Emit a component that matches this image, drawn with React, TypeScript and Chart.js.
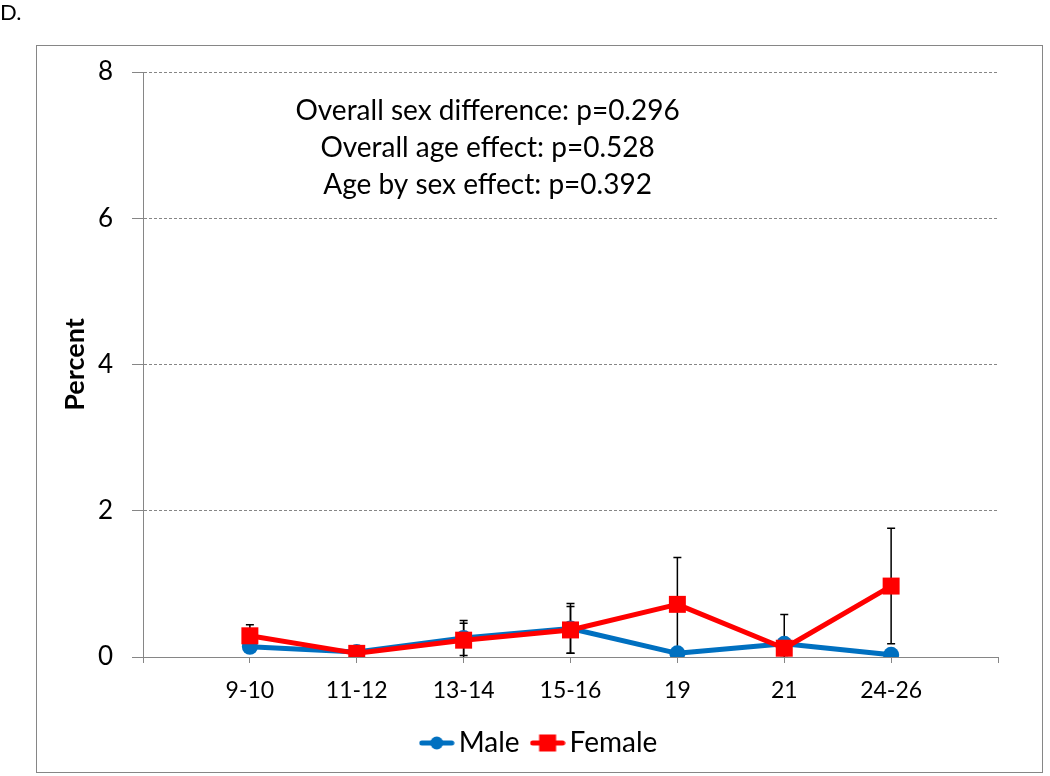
import React, { useEffect, useRef } from 'react';
import { Chart, registerables } from 'chart.js';

Chart.register(...registerables);

const ageGroups = ['9-10', '11-12', '13-14', '15-16', '19', '21', '24-26'];
const maleValues = [0.14, 0.07, 0.26, 0.39, 0.05, 0.18, 0.03];
const maleErrors = [0.05, 0.03, 0.24, 0.34, 0.03, 0.4, 0.02];
const femaleValues = [0.29, 0.05, 0.23, 0.37, 0.72, 0.12, 0.97];
const femaleErrors = [0.15, 0.03, 0.23, 0.32, 0.64, 0.1, 0.79];
const yTickValues = [0, 2, 4, 6, 8];
const annotationLines = [
  'Overall sex difference: p=0.296',
  'Overall age effect: p=0.528',
  'Age by sex effect: p=0.392',
];
const panelLabel = 'D.';
const yTitle = 'Percent';
const seriesNames = ['Male', 'Female'];

const BLUE = '#0070C0';
const RED = '#FF0000';
const GRAY = '#868686';
const FONT = 'Lato';

function makeLegendImage(color: string, shape: 'circle' | 'square'): HTMLCanvasElement {
  const c = document.createElement('canvas');
  c.width = 36;
  c.height = 18;
  const g = c.getContext('2d')!;
  g.strokeStyle = color;
  g.lineWidth = 5;
  g.lineCap = 'round';
  g.beginPath();
  g.moveTo(3, 9);
  g.lineTo(33, 9);
  g.stroke();
  g.fillStyle = color;
  if (shape === 'circle') {
    g.beginPath();
    g.arc(18, 9, 6.5, 0, Math.PI * 2);
    g.fill();
  } else {
    g.fillRect(9.5, 0.5, 17, 17);
  }
  return c;
}

const errorBarPlugin = {
  id: 'errorBars',
  beforeDatasetsDraw(chart: any) {
    const ctx = chart.ctx;
    const yScale = chart.scales.y;
    chart.data.datasets.forEach((ds: any, di: number) => {
      const meta = chart.getDatasetMeta(di);
      const errs: number[] = ds.errorValues || [];
      meta.data.forEach((pt: any, j: number) => {
        const v = ds.data[j].y;
        const e = errs[j] || 0;
        const topV = v + e;
        const botV = Math.max(0, v - e);
        const x = pt.x;
        const yTop = yScale.getPixelForValue(topV);
        const yBot = yScale.getPixelForValue(botV);
        ctx.save();
        ctx.strokeStyle = '#000';
        ctx.lineWidth = 1.5;
        ctx.beginPath();
        ctx.moveTo(x, yTop);
        ctx.lineTo(x, yBot);
        ctx.moveTo(x - 4, yTop);
        ctx.lineTo(x + 4, yTop);
        if (v - e > 0) {
          ctx.moveTo(x - 4, yBot);
          ctx.lineTo(x + 4, yBot);
        }
        ctx.stroke();
        ctx.restore();
      });
    });
  },
};

const framePlugin = {
  id: 'frame',
  beforeDraw(chart: any) {
    const ctx = chart.ctx;
    ctx.save();
    ctx.fillStyle = '#fff';
    ctx.fillRect(0, 0, chart.width, chart.height);
    ctx.strokeStyle = GRAY;
    ctx.lineWidth = 1;
    ctx.strokeRect(36.5, 45.5, 1006, 727);
    ctx.fillStyle = '#000';
    ctx.font = `22px ${FONT}`;
    ctx.textBaseline = 'alphabetic';
    ctx.textAlign = 'left';
    ctx.fillText(panelLabel, 0, 20);
    ctx.restore();
  },
  afterDraw(chart: any) {
    const ctx = chart.ctx;
    const area = chart.chartArea;
    const cx = area.left + (area.right - area.left) * 0.403;
    ctx.save();
    ctx.fillStyle = '#000';
    ctx.font = `28px ${FONT}`;
    ctx.textAlign = 'center';
    ctx.textBaseline = 'middle';
    annotationLines.forEach((t, i) => {
      ctx.fillText(t, cx, area.top + 39 + i * 37);
    });
    ctx.restore();
  },
};

const legendShiftPlugin = {
  id: 'legendShift',
  afterLayout(chart: any) {
    const lg = chart.legend;
    if (lg) {
      lg.left += 24;
      lg.right += 24;
    }
  },
};

const yAxisLinePlugin = {
  id: 'yAxisLine',
  afterDatasetsDraw(chart: any) {
    // solid vertical axis line along the y scale (drawn from the scale's own position)
    const y = chart.scales.y;
    const ctx = chart.ctx;
    ctx.save();
    ctx.strokeStyle = GRAY;
    ctx.lineWidth = 1;
    ctx.setLineDash([]);
    ctx.beginPath();
    const x = Math.round(y.right) - 0.5 + 1;
    ctx.moveTo(x, y.getPixelForValue(yTickValues[yTickValues.length - 1]));
    ctx.lineTo(x, y.getPixelForValue(yTickValues[0]));
    ctx.stroke();
    ctx.restore();
  },
};

export default function App() {
  const ref = useRef<HTMLCanvasElement | null>(null);
  useEffect(() => {
    if (!ref.current) return;
    const maleImg = makeLegendImage(BLUE, 'circle');
    const femaleImg = makeLegendImage(RED, 'square');
    const labels = ['', ...ageGroups, ''];
    const chart = new Chart(ref.current, {
      type: 'line',
      data: {
        labels,
        datasets: [
          {
            label: seriesNames[0],
            data: maleValues.map((v, i) => ({ x: ageGroups[i], y: v })),
            errorValues: maleErrors,
            borderColor: BLUE,
            backgroundColor: BLUE,
            borderWidth: 5,
            borderCapStyle: 'round',
            borderJoinStyle: 'round',
            pointStyle: 'circle',
            pointRadius: 8,
            pointBorderWidth: 0,
            pointBackgroundColor: BLUE,
            tension: 0,
            order: 1,
          } as any,
          {
            label: seriesNames[1],
            data: femaleValues.map((v, i) => ({ x: ageGroups[i], y: v })),
            errorValues: femaleErrors,
            borderColor: RED,
            backgroundColor: RED,
            borderWidth: 5,
            borderCapStyle: 'round',
            borderJoinStyle: 'round',
            pointStyle: 'rect',
            pointRadius: 12,
            pointBorderWidth: 0,
            pointBackgroundColor: RED,
            tension: 0,
            order: 0,
          } as any,
        ],
      },
      options: {
        animation: false,
        responsive: false,
        devicePixelRatio: 1,
        layout: { padding: { left: 40, right: 52, top: 72, bottom: 9 } },
        plugins: {
          tooltip: { enabled: false },
          legend: {
            display: true,
            position: 'bottom',
            align: 'center',
            labels: {
              usePointStyle: true,
              pointStyleWidth: 16,
              padding: 20,
              color: '#000',
              font: { family: FONT, size: 28 },
              generateLabels: () => [
                { text: seriesNames[0], pointStyle: maleImg as any, fillStyle: BLUE, strokeStyle: BLUE, lineWidth: 0, hidden: false, datasetIndex: 0 },
                { text: seriesNames[1], pointStyle: femaleImg as any, fillStyle: RED, strokeStyle: RED, lineWidth: 0, hidden: false, datasetIndex: 1 },
              ],
            },
          },
        },
        scales: {
          x: {
            type: 'category',
            offset: false,
            afterFit: (s: any) => { s.height = 52; },
            grid: {
              display: true,
              drawOnChartArea: false,
              drawTicks: true,
              tickLength: 6,
              tickColor: GRAY,
              tickWidth: 1,
            },
            border: { display: true, color: GRAY, width: 1 },
            ticks: {
              color: '#000',
              font: { family: FONT, size: 23 },
              padding: 14,
              maxRotation: 0,
              autoSkip: false,
            },
          },
          y: {
            type: 'linear',
            min: 0,
            max: 8,
            afterFit: (s: any) => { s.width = 103; },
            afterBuildTicks: (s: any) => { s.ticks = yTickValues.map((v) => ({ value: v })); },
            grid: {
              display: true,
              drawOnChartArea: true,
              drawTicks: true,
              tickLength: 11,
              color: (c: any) => (c.tick && c.tick.value === 0 ? 'rgba(0,0,0,0)' : GRAY),
              lineWidth: 1,
              tickBorderDash: [0, 0],
              tickColor: GRAY,
              tickWidth: 1,
            } as any,
            border: { display: true, color: GRAY, width: 1, dash: [3, 2] } as any,
            ticks: {
              color: '#000',
              font: { family: FONT, size: 26 },
              padding: 19,
            },
            title: {
              display: true,
              text: yTitle,
              color: '#000',
              font: { family: FONT, size: 27, weight: 'bold' },
              padding: { top: 19, bottom: 0 },
            },
          },
        },
      } as any,
      plugins: [framePlugin, errorBarPlugin, legendShiftPlugin, yAxisLinePlugin],
    });
    return () => chart.destroy();
  }, []);
  return (
    <div style={{ position: 'fixed', left: 0, top: 0, width: 1050, height: 776, background: '#fff' }}>
      <canvas ref={ref} width={1050} height={776} style={{ width: 1050, height: 776, display: 'block' }} />
    </div>
  );
}
